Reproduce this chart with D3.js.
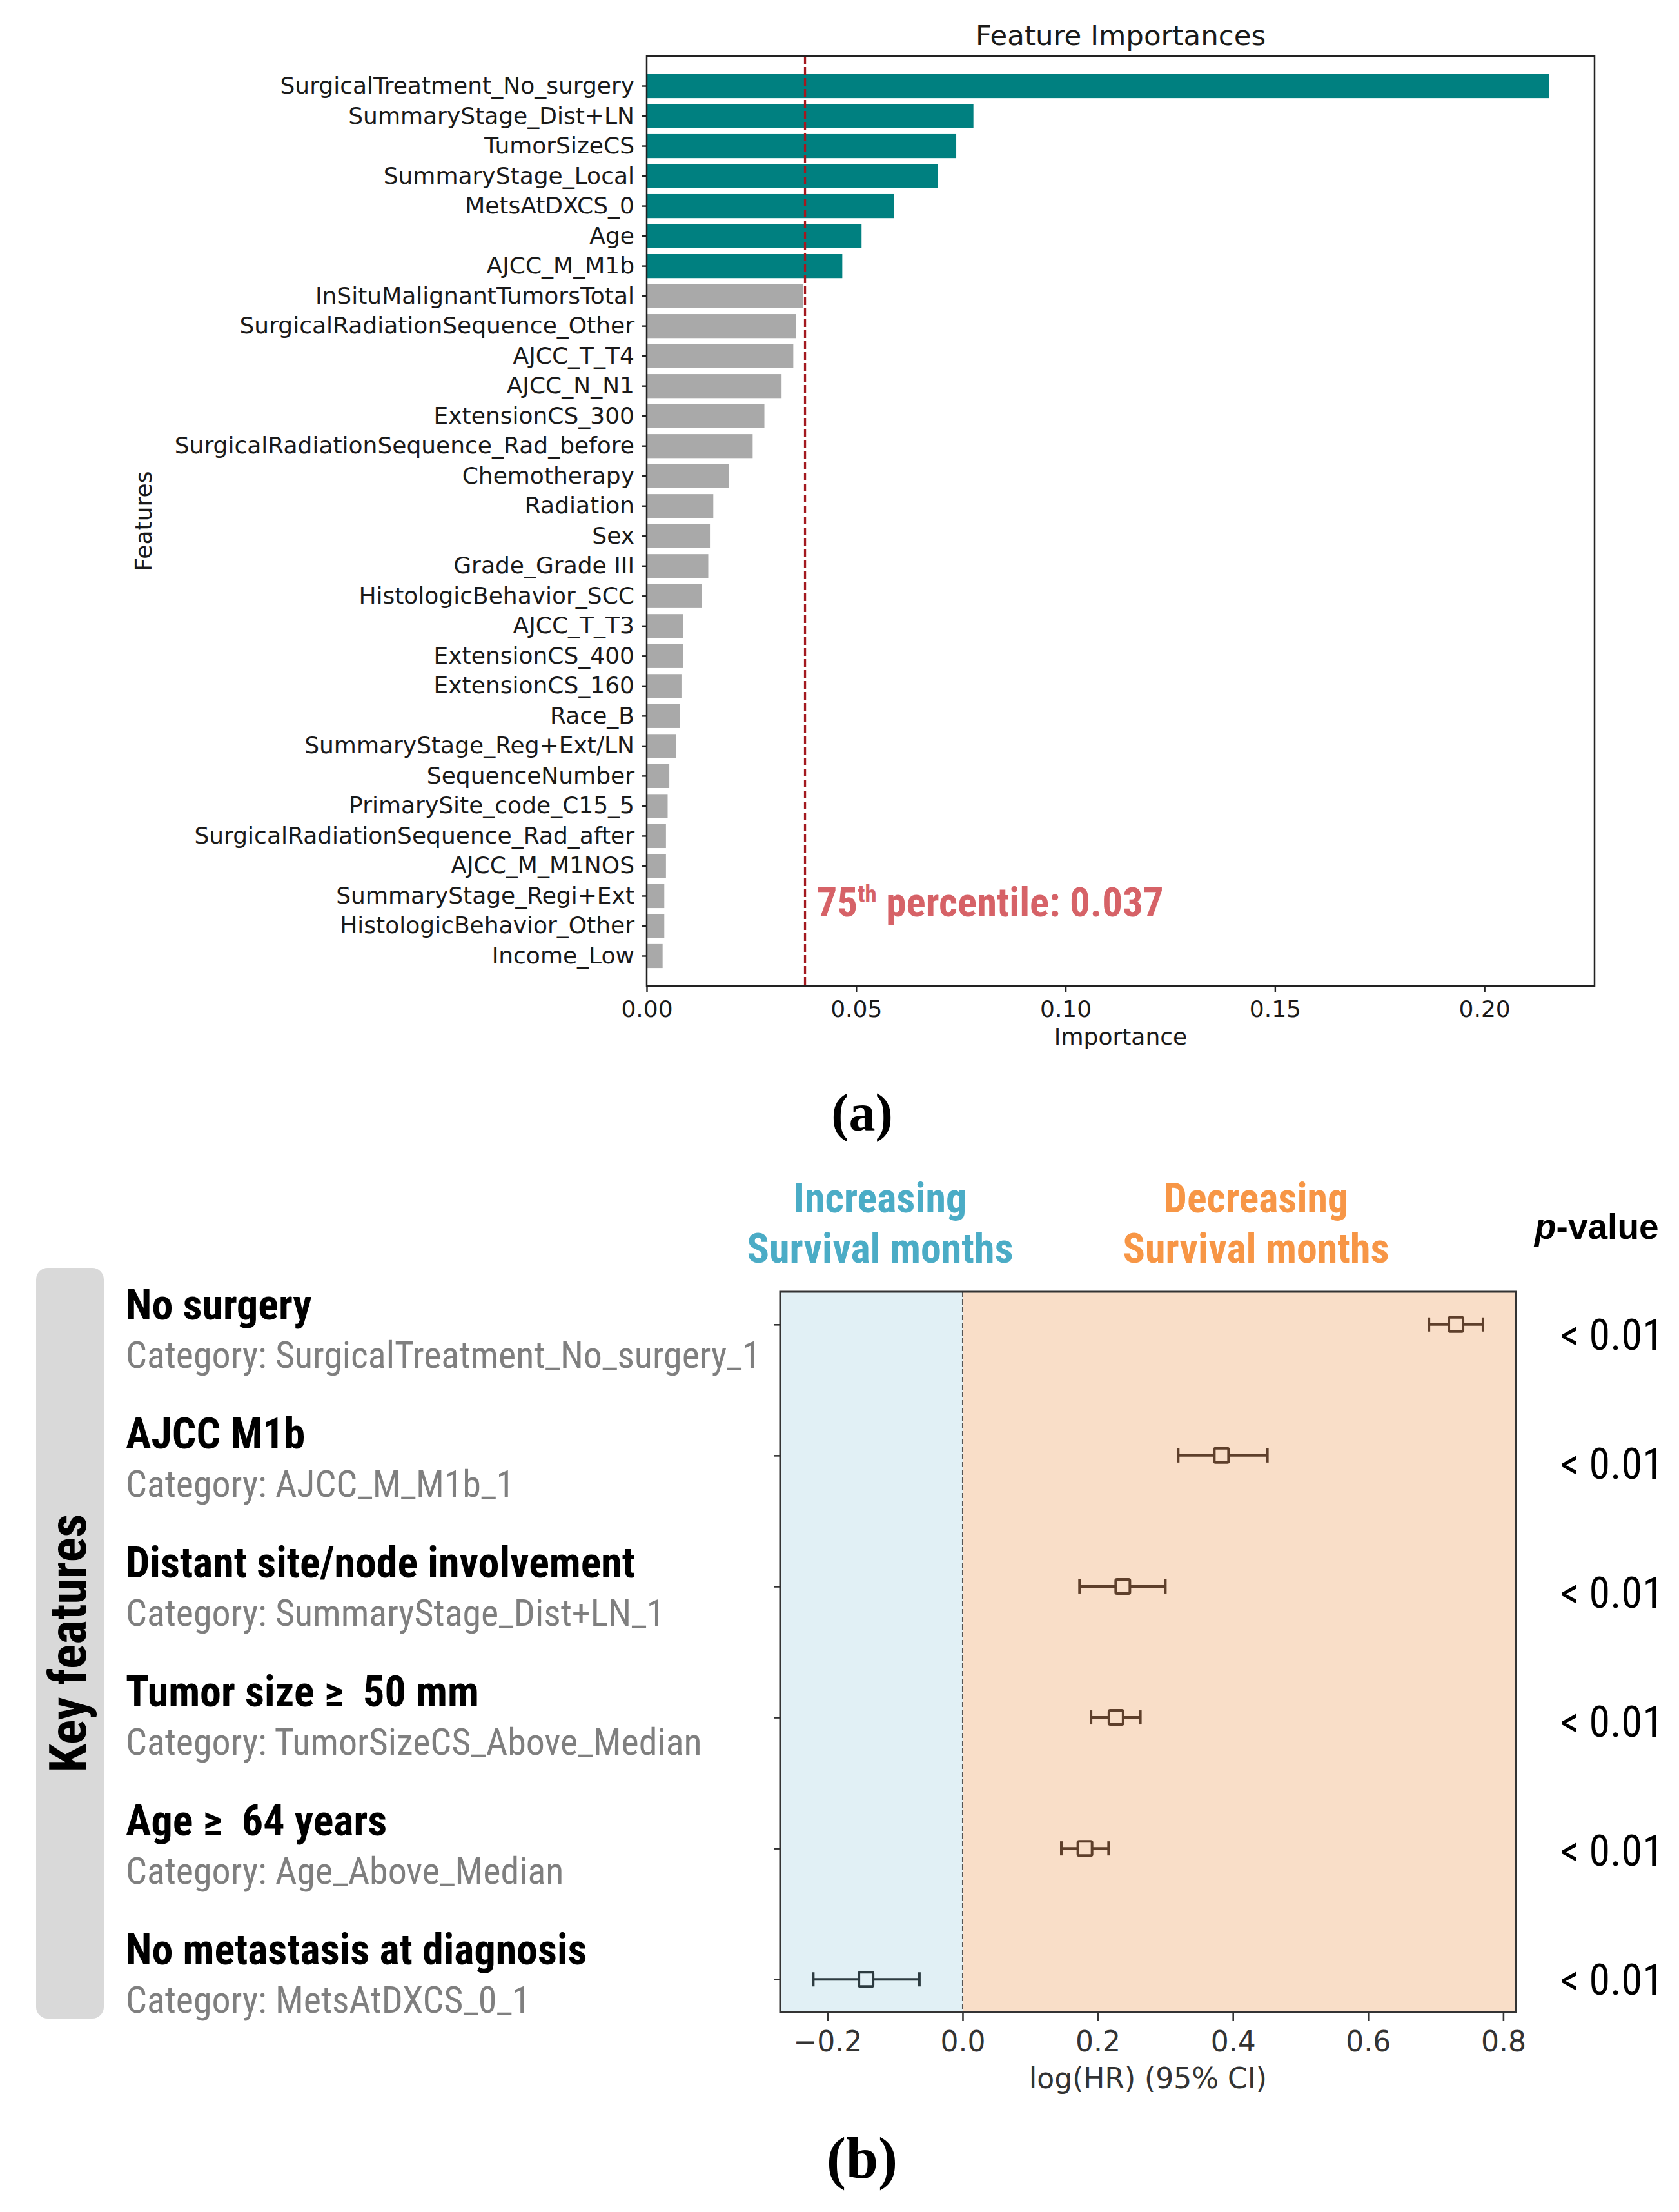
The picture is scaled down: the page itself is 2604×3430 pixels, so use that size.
<!DOCTYPE html>
<html><head><meta charset="utf-8">
<script src="https://cdn.jsdelivr.net/npm/d3@7"></script>
<style>body{margin:0;background:#fff} svg{display:block}</style>
</head><body>
<svg id="chart" width="2604" height="3430"></svg>
<script>
// ---------- Panel (a) data ----------
const features = [
  "SurgicalTreatment_No_surgery","SummaryStage_Dist+LN","TumorSizeCS","SummaryStage_Local",
  "MetsAtDXCS_0","Age","AJCC_M_M1b","InSituMalignantTumorsTotal","SurgicalRadiationSequence_Other",
  "AJCC_T_T4","AJCC_N_N1","ExtensionCS_300","SurgicalRadiationSequence_Rad_before","Chemotherapy",
  "Radiation","Sex","Grade_Grade III","HistologicBehavior_SCC","AJCC_T_T3","ExtensionCS_400",
  "ExtensionCS_160","Race_B","SummaryStage_Reg+Ext/LN","SequenceNumber","PrimarySite_code_C15_5",
  "SurgicalRadiationSequence_Rad_after","AJCC_M_M1NOS","SummaryStage_Regi+Ext",
  "HistologicBehavior_Other","Income_Low"];
const importances = [
  0.2155,0.0780,0.0739,0.0695,0.0590,0.0513,0.0467,0.0373,0.0357,0.0350,
  0.0322,0.0281,0.0253,0.0196,0.0159,0.0151,0.0147,0.0131,0.0087,0.0087,
  0.0083,0.0079,0.0070,0.0054,0.0050,0.0046,0.0046,0.0042,0.0042,0.0038];
const threshold = 0.0378;
const thresholdLabel = ["75", "th", " percentile: 0.037"];
const xTicksA = [0, 0.05, 0.10, 0.15, 0.20];

// ---------- Panel (b) data ----------
const keyLabels = ["No surgery","AJCC M1b","Distant site/node involvement",
  "Tumor size \u2265  50 mm","Age \u2265  64 years","No metastasis at diagnosis"];
const keyCategories = ["Category: SurgicalTreatment_No_surgery_1","Category: AJCC_M_M1b_1",
  "Category: SummaryStage_Dist+LN_1","Category: TumorSizeCS_Above_Median",
  "Category: Age_Above_Median","Category: MetsAtDXCS_0_1"];
const logHR  = [0.730, 0.383, 0.237, 0.227, 0.181, -0.143];
const ciLow  = [0.690, 0.319, 0.173, 0.190, 0.146, -0.221];
const ciHigh = [0.770, 0.451, 0.300, 0.263, 0.216, -0.064];
const pValues = ["< 0.01","< 0.01","< 0.01","< 0.01","< 0.01","< 0.01"];
const xTicksB = [-0.2, 0.0, 0.2, 0.4, 0.6, 0.8];

const svg = d3.select("#chart");
const NARROW = "'Liberation Sans Narrow','Arial Narrow','Roboto Condensed',sans-serif";
const ARIAL = "'Liberation Sans',Arial,sans-serif";
const DEJAVU = "'DejaVu Sans',sans-serif";
const SERIF = "'Liberation Serif','Times New Roman',serif";

// ================= Panel (a) =================
const A = {l:1003, r:2473, t:87, b:1529};
const xA = d3.scaleLinear().domain([0, 0.2263]).range([A.l, A.r]);
const yA = d3.scaleBand().domain(features).range([A.t, A.b]).paddingInner(0.2).paddingOuter(0.6);
const gA = svg.append("g");

gA.selectAll("rect.bar").data(features).join("rect")
  .attr("class","bar")
  .attr("x", xA(0))
  .attr("y", d => yA(d))
  .attr("width", (d,i) => xA(importances[i]) - xA(0))
  .attr("height", yA.bandwidth())
  .attr("fill", (d,i) => importances[i] > threshold ? "#008080" : "#a9a9a9");

gA.append("line")
  .attr("x1", xA(threshold)).attr("x2", xA(threshold))
  .attr("y1", A.t).attr("y2", A.b)
  .attr("stroke", "#a3191f").attr("stroke-width", 3.3)
  .attr("stroke-dasharray", "12,5");

const axA = gA.append("g").attr("transform", `translate(0,${A.b})`)
  .call(d3.axisBottom(xA).tickValues(xTicksA).tickFormat(d3.format(".2f")).tickSize(10).tickPadding(12));
const ayA = gA.append("g").attr("transform", `translate(${A.l},0)`)
  .call(d3.axisLeft(yA).tickSize(8).tickPadding(11));
[axA, ayA].forEach(g => {
  g.select(".domain").remove();
  g.selectAll(".tick line").attr("stroke", "#222").attr("stroke-width", 2.4);
  g.selectAll(".tick text").attr("font-family", DEJAVU).attr("font-size", 36).attr("fill", "#1a1a1a");
});

gA.append("rect").attr("x", A.l).attr("y", A.t).attr("width", A.r - A.l).attr("height", A.b - A.t)
  .attr("fill", "none").attr("stroke", "#222").attr("stroke-width", 2.5);

gA.append("text").attr("x", (A.l + A.r)/2).attr("y", 70).attr("text-anchor", "middle")
  .attr("font-family", DEJAVU).attr("font-size", 43.5).attr("fill", "#1a1a1a").text("Feature Importances");
gA.append("text").attr("x", (A.l + A.r)/2).attr("y", 1620).attr("text-anchor", "middle")
  .attr("font-family", DEJAVU).attr("font-size", 36).attr("fill", "#1a1a1a").text("Importance");
gA.append("text").attr("transform", `translate(235,${(A.t + A.b)/2}) rotate(-90)`).attr("text-anchor", "middle")
  .attr("font-family", DEJAVU).attr("font-size", 36).attr("fill", "#1a1a1a").text("Features");

const thr = gA.append("text").attr("x", xA(threshold) + 18).attr("y", 1421)
  .attr("font-family", NARROW).attr("font-weight", "bold").attr("font-size", 63).attr("fill", "#d66267");
thr.append("tspan").text(thresholdLabel[0]);
thr.append("tspan").attr("font-size", 37).attr("dy", -22).text(thresholdLabel[1]);
thr.append("tspan").attr("dy", 22).text(thresholdLabel[2]);

svg.append("text").attr("x", 1337).attr("y", 1753).attr("text-anchor", "middle")
  .attr("font-family", SERIF).attr("font-weight", "bold").attr("font-size", 82).attr("fill", "#000").text("(a)");

// ================= Panel (b) =================
const B = {l:1210, r:2351, t:2003, b:3120};
const rows = d3.range(keyLabels.length);
const xB = d3.scaleLinear().domain([-0.270, 0.8187]).range([B.l, B.r]);
const yB = d3.scalePoint().domain(rows).range([B.t, B.b]).padding(0.25);
const yLabel = d3.scalePoint().domain(rows).range([2046, 3046]);
const gB = svg.append("g");

gB.append("rect").attr("x", xB(xB.domain()[0])).attr("y", B.t)
  .attr("width", xB(0) - xB(xB.domain()[0])).attr("height", B.b - B.t).attr("fill", "#e1f0f5");
gB.append("rect").attr("x", xB(0)).attr("y", B.t)
  .attr("width", xB(xB.domain()[1]) - xB(0)).attr("height", B.b - B.t).attr("fill", "#f9dec8");
gB.append("line").attr("x1", xB(0)).attr("x2", xB(0)).attr("y1", B.t).attr("y2", B.b)
  .attr("stroke", "#555").attr("stroke-width", 2).attr("stroke-dasharray", "8,4");

const colorFor = i => logHR[i] < 0 ? "#2c3b40" : "#5e3f2b";
const pts = gB.selectAll("g.pt").data(rows).join("g").attr("class", "pt");
pts.append("line").attr("x1", i => xB(ciLow[i])).attr("x2", i => xB(ciHigh[i]))
  .attr("y1", i => yB(i)).attr("y2", i => yB(i))
  .attr("stroke", colorFor).attr("stroke-width", 4);
pts.append("line").attr("x1", i => xB(ciLow[i])).attr("x2", i => xB(ciLow[i]))
  .attr("y1", i => yB(i) - 11).attr("y2", i => yB(i) + 11)
  .attr("stroke", colorFor).attr("stroke-width", 4);
pts.append("line").attr("x1", i => xB(ciHigh[i])).attr("x2", i => xB(ciHigh[i]))
  .attr("y1", i => yB(i) - 11).attr("y2", i => yB(i) + 11)
  .attr("stroke", colorFor).attr("stroke-width", 4);
pts.append("rect").attr("x", i => xB(logHR[i]) - 11).attr("y", i => yB(i) - 11)
  .attr("width", 22).attr("height", 22).attr("rx", 2)
  .attr("fill", i => logHR[i] < 0 ? "#e1f0f5" : "#f9dec8")
  .attr("stroke", colorFor).attr("stroke-width", 4);

const axB = gB.append("g").attr("transform", `translate(0,${B.b})`)
  .call(d3.axisBottom(xB).tickValues(xTicksB).tickFormat(d3.format(".1f")).tickSize(14).tickPadding(16));
const ayB = gB.append("g").attr("transform", `translate(${B.l},0)`)
  .call(d3.axisLeft(yB).tickSize(9).tickFormat(""));
[axB, ayB].forEach(g => {
  g.select(".domain").remove();
  g.selectAll(".tick line").attr("stroke", "#333").attr("stroke-width", 2.6);
  g.selectAll(".tick text").attr("font-family", DEJAVU).attr("font-size", 44).attr("fill", "#333");
});
gB.append("rect").attr("x", B.l).attr("y", B.t).attr("width", B.r - B.l).attr("height", B.b - B.t)
  .attr("fill", "none").attr("stroke", "#333").attr("stroke-width", 3);

gB.append("text").attr("x", (B.l + B.r)/2).attr("y", 3238).attr("text-anchor", "middle")
  .attr("font-family", DEJAVU).attr("font-size", 44).attr("fill", "#333").text("log(HR) (95% CI)");

// headers
[["Increasing", "Survival months", 1365, "#4bacc6"], ["Decreasing", "Survival months", 1948, "#f79646"]]
  .forEach(([a, b, x, c]) => {
    gB.append("text").attr("x", x).attr("y", 1880).attr("text-anchor", "middle")
      .attr("font-family", NARROW).attr("font-weight", "bold").attr("font-size", 64).attr("fill", c).text(a);
    gB.append("text").attr("x", x).attr("y", 1958).attr("text-anchor", "middle")
      .attr("font-family", NARROW).attr("font-weight", "bold").attr("font-size", 64).attr("fill", c).text(b);
  });
const pv = gB.append("text").attr("x", 2380).attr("y", 1921)
  .attr("font-family", ARIAL).attr("font-weight", "bold").attr("font-size", 55).attr("fill", "#000");
pv.append("tspan").attr("font-style", "italic").text("p");
pv.append("tspan").text("-value");

gB.selectAll("text.pval").data(rows).join("text").attr("class", "pval")
  .attr("x", 2420).attr("y", i => yLabel(i) + 47)
  .attr("font-family", NARROW).attr("font-size", 66).attr("fill", "#000")
  .text(i => pValues[i]);

// left key features
svg.append("rect").attr("x", 56).attr("y", 1966).attr("width", 105).attr("height", 1164)
  .attr("rx", 18).attr("fill", "#d9d9d9");
svg.append("text").attr("transform", "translate(133,2548) rotate(-90)").attr("text-anchor", "middle")
  .attr("font-family", NARROW).attr("font-weight", "bold").attr("font-size", 80).attr("fill", "#000")
  .text("Key features");

gB.selectAll("text.klab").data(rows).join("text").attr("class", "klab")
  .attr("x", 195).attr("y", i => yLabel(i))
  .style("white-space", "pre")
  .attr("font-family", NARROW).attr("font-weight", "bold").attr("font-size", 66).attr("fill", "#000")
  .text(i => keyLabels[i]);
gB.selectAll("text.kcat").data(rows).join("text").attr("class", "kcat")
  .attr("x", 195).attr("y", i => yLabel(i) + 75)
  .attr("font-family", NARROW).attr("font-size", 58).attr("fill", "#7f7f7f")
  .text(i => keyCategories[i]);

svg.append("text").attr("x", 1337).attr("y", 3377).attr("text-anchor", "middle")
  .attr("font-family", SERIF).attr("font-weight", "bold").attr("font-size", 90).attr("fill", "#000").text("(b)");
</script>
</body></html>
